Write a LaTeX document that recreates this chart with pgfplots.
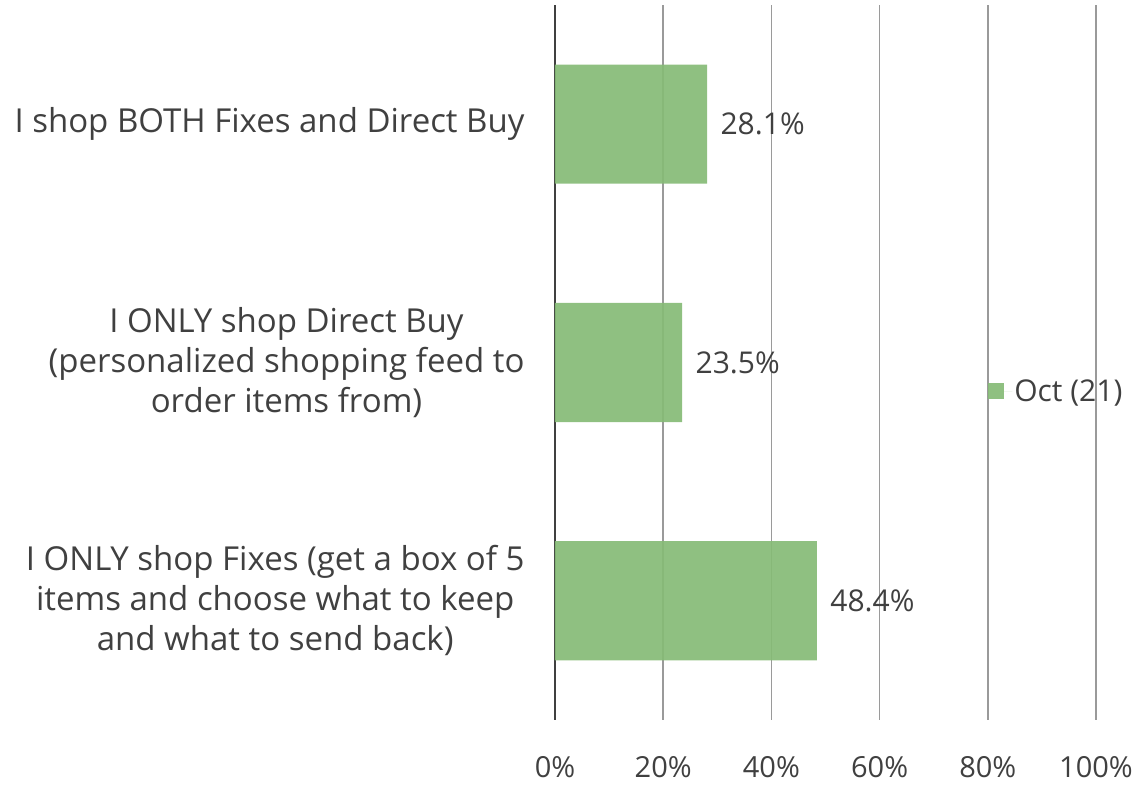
\documentclass[border=0pt]{standalone}
\usepackage{pgfplots}
\pgfplotsset{compat=1.18}
\usepackage{fontspec}
\setmainfont{Open Sans}
\definecolor{barc}{HTML}{86BB76}
\definecolor{txt}{HTML}{404040}
\definecolor{gridc}{HTML}{9A9A9A}
\begin{document}
\begin{tikzpicture}
\begin{axis}[
  scale only axis,
  width=541pt, height=715pt,
  xbar, bar width=0.5,
  xmin=0, xmax=100,
  ymin=-0.5, ymax=2.5,
  ytick={0,1,2},
  yticklabels={{I ONLY shop Fixes (get a box of 5\\items and choose what to keep\\and what to send back)},
               {I ONLY shop Direct Buy\\(personalized shopping feed to\\order items from)},
               {I shop BOTH Fixes and Direct Buy}},
  xtick={0,20,40,60,80,100},
  xticklabels={0\%,20\%,40\%,60\%,80\%,100\%},
  major tick length=0pt,
  axis x line*=bottom,
  axis y line*=left,
  x axis line style={draw=none},
  y axis line style={draw=txt, line width=1.6pt},
  xmajorgrids,
  major grid style={draw=gridc, line width=1.6pt},
  xticklabel style={font=\fontsize{29}{40}\selectfont, text=txt, yshift=-33pt},
  yticklabel style={font=\fontsize{33}{40}\selectfont, text=txt, align=center, xshift=-27pt},
  /pgf/number format/assume math mode=true,
  nodes near coords={\pgfmathprintnumber[fixed,precision=1,fixed zerofill,assume math mode=true]{\pgfplotspointmeta}\%},
  nodes near coords style={font=\fontsize{30}{40}\selectfont, text=txt, xshift=10pt},
  legend style={draw=none, fill=none, at={(rel axis cs:0.795,0.46)}, anchor=west,
    font=\fontsize{30}{40}\selectfont, text=txt},
  legend image code/.code={\path[fill=barc] (0pt,-8pt) rectangle (16pt,8pt); \path (0pt,0pt) -- (24pt,0pt);},
  clip=false,
]
\addplot[draw=none, fill=barc, fill opacity=0.92, text opacity=1] coordinates {(48.4,0) (23.5,1) (28.1,2)};
\addlegendentry{Oct (21)}
\end{axis}
\pgfresetboundingbox
\path ([shift={(-555pt,-66pt)}]current axis.south west) rectangle ([shift={(46pt,5pt)}]current axis.north east);
\end{tikzpicture}
\end{document}
